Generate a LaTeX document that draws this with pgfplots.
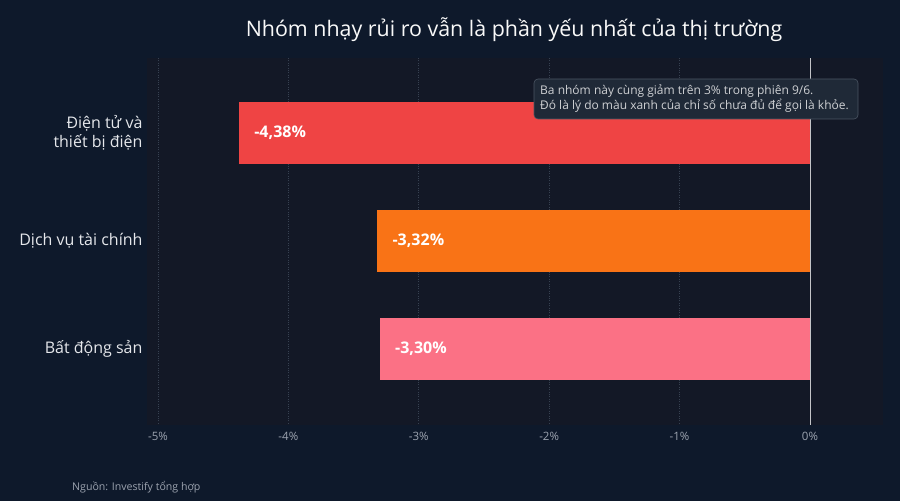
\documentclass[border=0pt]{standalone}
\usepackage{pgfplots}
\pgfplotsset{compat=1.18}
\usepackage{fontspec}
\setmainfont{Open Sans}

\definecolor{pagebg}{HTML}{0E192B}
\definecolor{plotbg}{HTML}{131826}
\definecolor{gridc}{HTML}{374151}
\definecolor{tickc}{HTML}{9CA3AF}
\definecolor{labc}{HTML}{E5E7EB}
\definecolor{barA}{HTML}{EF4444}
\definecolor{barB}{HTML}{F97316}
\definecolor{barC}{HTML}{FB7185}
\definecolor{notebg}{HTML}{1F2937}
\definecolor{noteline}{HTML}{4B5563}

\begin{document}
\begin{tikzpicture}[x=1pt,y=1pt]
% page background, 900 x 501
\fill[pagebg] (0,0) rectangle (900,501);

\begin{axis}[
    at={(147pt,76pt)}, anchor=south west,
    scale only axis,
    width=736pt, height=367pt,
    xbar, bar shift=0pt, bar width=0.574,
    xmin=-5.084, xmax=0.56,
    ymin=-0.694, ymax=2.704,
    y dir=reverse,
    axis background/.style={fill=plotbg},
    axis line style={draw=none},
    xtick={-5,-4,-3,-2,-1,0},
    xticklabels={-5\%,-4\%,-3\%,-2\%,-1\%,0\%},
    ytick={0,1,2},
    yticklabels={{Điện tử và\\thiết bị điện},Dịch vụ tài chính,Bất động sản},
    major tick length=0pt,
    xmajorgrids,
    grid style={gridc, dotted, line width=0.8pt},
    xticklabel style={font=\fontsize{11.5}{13}\selectfont, text=tickc, yshift=-4pt},
    yticklabel style={font=\fontsize{16}{18.5}\selectfont, text=labc, align=right, xshift=-1pt},
    clip=false,
]
\addplot[fill=barA, draw=none] coordinates {(-4.38,0)};
\addplot[fill=barB, draw=none] coordinates {(-3.32,1)};
\addplot[fill=barC, draw=none] coordinates {(-3.30,2)};

\draw[labc!85!black, line width=0.9pt] (axis cs:0,-0.694) -- (axis cs:0,2.704);

\node[anchor=west, text=white, font=\fontsize{16}{19}\selectfont\bfseries] at (axis cs:-4.38,0) [xshift=12pt] {-4,38\%};
\node[anchor=west, text=white, font=\fontsize{16}{19}\selectfont\bfseries] at (axis cs:-3.32,1) [xshift=12pt] {-3,32\%};
\node[anchor=west, text=white, font=\fontsize{16}{19}\selectfont\bfseries] at (axis cs:-3.30,2) [xshift=12pt] {-3,30\%};
\end{axis}

% annotation box
\fill[notebg, rounded corners=4pt] (534,382) rectangle (858,422);
\draw[noteline, rounded corners=4pt, line width=0.6pt] (534,382) rectangle (858,422);
\node[anchor=west, align=left, text=labc!90!black, font=\fontsize{12}{15}\selectfont, inner sep=0pt]
  at (540,402) {Ba nhóm này cùng giảm trên 3\% trong phiên 9/6.\\Đó là lý do màu xanh của chỉ số chưa đủ để gọi là khỏe.};

% title
\node[text=white!95!gray, font=\fontsize{21.4}{25}\selectfont] at (514,471)
  {Nhóm nhạy rủi ro vẫn là phần yếu nhất của thị trường};

% source
\node[anchor=west, text=tickc, font=\fontsize{10.6}{12}\selectfont, inner sep=0pt] at (72,14)
  {Nguồn: Investify tổng hợp};
\end{tikzpicture}
\end{document}
